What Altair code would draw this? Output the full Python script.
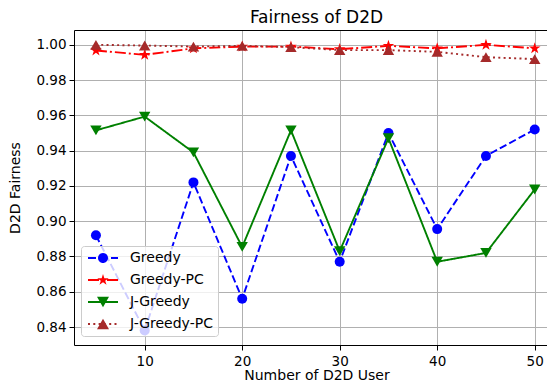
import altair as alt
import pandas as pd
import math

# ---- data ----
x_users = [5, 10, 15, 20, 25, 30, 35, 40, 45, 50]
series_names = ["Greedy", "Greedy-PC", "J-Greedy", "J-Greedy-PC"]
greedy = [0.892, 0.838, 0.922, 0.856, 0.937, 0.877, 0.950, 0.8955, 0.937, 0.952]
greedy_pc = [0.9968, 0.9943, 0.998, 0.999, 0.999, 0.9975, 0.9994, 0.998, 1.000, 0.998]
j_greedy = [0.9515, 0.9593, 0.939, 0.8854, 0.9515, 0.883, 0.947, 0.877, 0.882, 0.918]
j_greedy_pc = [1.000, 0.9996, 0.999, 0.9994, 0.9987, 0.997, 0.997, 0.996, 0.993, 0.9919]
y_ticks = [0.84, 0.86, 0.88, 0.90, 0.92, 0.94, 0.96, 0.98, 1.00]
x_ticks = [10, 20, 30, 40, 50]

colors = ["#0000ff", "#ff0000", "#008000", "#a52a2a"]
dashes = [[7.5, 3.2], [11, 3, 2, 3], [1, 0], [2, 3.3]]

rows = []
for name, vals in zip(series_names, [greedy, greedy_pc, j_greedy, j_greedy_pc]):
    for xv, yv in zip(x_users, vals):
        rows.append({"users": xv, "fairness": yv, "series": name})
df = pd.DataFrame(rows)

# ---- marker shapes ----
def star_path(cx=0.0, R=1.0):
    pts = []
    for k in range(10):
        ang = math.radians(-90 + 36 * k)
        r = R if k % 2 == 0 else R * 0.382
        pts.append((cx + r * math.cos(ang), r * math.sin(ang)))
    return "M" + "L".join(f"{px:.3f},{py:.3f}" for px, py in pts) + "Z"

def dash_rects(pattern, x0=-1.0, x1=5.0, hw=0.2):
    parts = []
    x = x0
    i = 0
    while x < x1 - 1e-6:
        seg = pattern[i % len(pattern)]
        end = min(x + seg, x1)
        if i % 2 == 0:
            parts.append(f"M{x:.3f},{-hw}L{end:.3f},{-hw}L{end:.3f},{hw}L{x:.3f},{hw}Z")
        x = end
        i += 1
    return "".join(parts)

cx = 2.0
leg_circle = f"M{cx+1},0A1,1 0 1,1 {cx-1},0A1,1 0 1,1 {cx+1},0Z"
leg_tdown = f"M{cx-1.2},-1.04L{cx+1.2},-1.04L{cx},1.04Z"
leg_tup = f"M{cx},-1.04L{cx+1.2},1.04L{cx-1.2},1.04Z"
legend_shapes = [
    dash_rects([1.6, 0.7]) + leg_circle,
    dash_rects([2.2, 0.6, 0.4, 0.6]) + star_path(cx, 1.2),
    dash_rects([6.0]) + leg_tdown,
    dash_rects([0.4, 0.66]) + leg_tup,
]
chart_shapes = ["circle", star_path(0, 1.0), "triangle-down", "triangle-up"]
marker_sizes = [100, 150, 130, 130]

font = "DejaVu Sans"
xscale = alt.Scale(domain=[2.75, 51.26], nice=False, zero=False)
yscale = alt.Scale(domain=[0.8298, 1.0084], nice=False, zero=False)
y_axis = alt.Axis(values=y_ticks, format=".2f", title="D2D Fairness", grid=True, titlePadding=13,
                  labelPadding=3)
yenc = alt.Y("fairness:Q", scale=yscale, axis=y_axis)
bottom_axis = alt.Axis(values=x_ticks, title="Number of D2D User", grid=True, orient="bottom",
                       labelPadding=4, titlePadding=1, titleX=242.5)
top_axis = alt.Axis(orient="top", labels=False, ticks=False, grid=False, title=None, domain=True)

layers = []
for i, name in enumerate(series_names):
    base = alt.Chart(df).transform_filter(alt.datum.series == name)
    layers.append(
        base.mark_line(strokeWidth=1.9, clip=True, color=colors[i], strokeDash=dashes[i]).encode(
            x=alt.X("users:Q", scale=xscale, axis=bottom_axis if i == 0 else None),
            y=yenc,
        )
    )
    layers.append(
        base.mark_point(
            filled=True, opacity=1, strokeWidth=0, shape=chart_shapes[i],
            size=marker_sizes[i], color=colors[i],
        ).encode(
            x=alt.X("users:Q", scale=xscale, axis=top_axis if i == 0 else None),
            y=yenc,
        )
    )

leg = alt.Legend(
    title=None, orient="none", legendX=7, legendY=216,
    symbolSize=100, symbolStrokeWidth=0, symbolOpacity=1, symbolFillColor="#777777",
    labelFont=font, labelFontSize=14, labelColor="black", labelOffset=30,
    rowPadding=8, padding=5,
    fillColor="rgba(255,255,255,0.8)", strokeColor="#cccccc", cornerRadius=3,
)
# legend-only layer: no rows reach the view, the legend is built from the scales
legend_layer = alt.Chart(df).transform_filter("datum.users < 0").mark_point(filled=True).encode(
    x=alt.X("users:Q", scale=xscale, axis=None),
    y=yenc,
    color=alt.Color("series:N", scale=alt.Scale(domain=series_names, range=colors), legend=leg),
    shape=alt.Shape("series:N", scale=alt.Scale(domain=series_names, range=legend_shapes), legend=leg),
)
layers.append(legend_layer)

chart = alt.layer(*layers).resolve_axis(x="independent").properties(
    width=473, height=315,
    title=alt.TitleParams("Fairness of D2D", font=font, fontSize=17, fontWeight="normal",
                          color="black", offset=3, dx=6),
    autosize=alt.AutoSizeParams(type="none"),
    padding={"left": 66, "top": 22, "right": 0, "bottom": 38},
).configure_view(stroke=None).configure_axis(
    domainColor="black", domainWidth=1, tickColor="black", tickSize=5, tickWidth=1,
    labelFont=font, labelFontSize=13.5, labelColor="black",
    titleFont=font, titleFontSize=14, titleFontWeight="normal", titleColor="black",
    gridColor="#b0b0b0", gridWidth=1,
)

chart.save("out.html", embed_options={"renderer": "svg", "actions": False})
